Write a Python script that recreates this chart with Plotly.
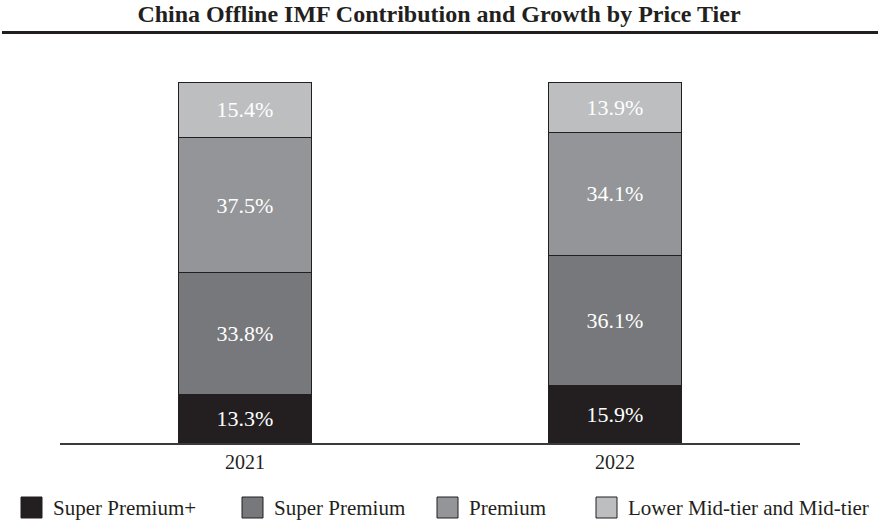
import plotly.graph_objects as go

years = ['2021', '2022']
tiers = ['Super Premium+', 'Super Premium', 'Premium', 'Lower Mid-tier and Mid-tier']
super_premium_plus = [13.3, 15.9]
super_premium = [33.8, 36.1]
premium = [37.5, 34.1]
lower_mid = [15.4, 13.9]
tier_colors = ['#231f20', '#77787b', '#939598', '#bcbec0']

W, H = 878, 522
L, R, T, B = 60, 78, 82, 79
FONT = 'Liberation Serif, Times New Roman, serif'
EDGE = '#231f20'


def px_x(px):
    return (px - L) / (W - L - R)


def px_y(py):
    return (H - B - py) / (H - T - B)


fig = go.Figure()
for name, vals, color in zip(tiers, [super_premium_plus, super_premium, premium, lower_mid], tier_colors):
    fig.add_trace(go.Bar(
        x=years,
        y=vals,
        name=name,
        width=0.36,
        marker=dict(color=color, line=dict(color=EDGE, width=1)),
        text=[f'{v:.1f}%' for v in vals],
        textposition='inside',
        insidetextanchor='middle',
        textangle=0,
        textfont=dict(family=FONT, size=22, color='white'),
        showlegend=False,
        hoverinfo='skip'
    ))

shapes = [
    # thick rule under the title
    dict(type='line', xref='paper', yref='paper',
         x0=px_x(2), x1=px_x(878), y0=px_y(32.5), y1=px_y(32.5),
         line=dict(color=EDGE, width=3))
]
annotations = []
#legend drawn by hand
swatch_left = [21, 242, 437, 596]
for name, color, sx in zip(tiers, tier_colors, swatch_left):
    shapes.append(dict(
        type='rect', xref='paper', yref='paper',
        x0=px_x(sx), x1=px_x(sx + 21), y0=px_y(497), y1=px_y(518),
        fillcolor=color, line=dict(color=EDGE, width=1)
    ))
    annotations.append(dict(
        text=name, xref='paper', yref='paper',
        x=px_x(sx + 30), y=px_y(507.5), xanchor='left', yanchor='middle',
        showarrow=False, font=dict(family=FONT, size=21, color=EDGE)
    ))

fig.update_layout(
    width=W, height=H,
    barmode='stack',
    plot_bgcolor='white', paper_bgcolor='white',
    font=dict(family=FONT, color=EDGE),
    title=dict(
        text='<b>China Offline IMF Contribution and Growth by Price Tier</b>',
        x=0.5, xanchor='center', y=1 - 14 / H, yanchor='middle',
        font=dict(family=FONT, size=24, color=EDGE)
    ),
    xaxis=dict(
        showline=True, linecolor='#3a3a3a', linewidth=1.5,
        showgrid=False, ticks='', zeroline=False,
        tickfont=dict(family=FONT, size=20, color=EDGE),
        range=[-0.5, 1.5]
    ),
    yaxis=dict(visible=False, range=[0, 100], showgrid=False, zeroline=False),
    shapes=shapes,
    annotations=annotations,
    margin=dict(l=L, r=R, t=T, b=B)
)

# drop the browser's default body margin so the figure sits at the page corner
fig.write_html('out.html', config={'displayModeBar': False},
               post_script="document.body.style.margin='0';")
